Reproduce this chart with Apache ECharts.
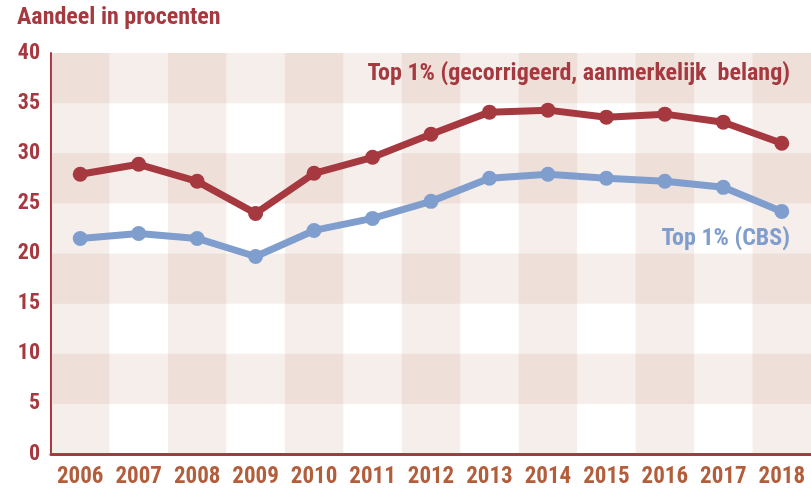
<!DOCTYPE html>
<html>
<head>
<meta charset="utf-8">
<script src="https://cdn.jsdelivr.net/npm/echarts@6/dist/echarts.min.js"></script>
<style>html,body{margin:0;padding:0;background:#fff}#c{width:811px;height:489px}</style>
</head>
<body>
<div id="c"></div>
<script>
var years = ['2006','2007','2008','2009','2010','2011','2012','2013','2014','2015','2016','2017','2018'];
var top1Corrected = [27.9, 28.9, 27.2, 24.0, 28.0, 29.6, 31.9, 34.1, 34.3, 33.6, 33.9, 33.1, 31.0];
var top1CBS = [21.5, 22.0, 21.5, 19.7, 22.3, 23.5, 25.2, 27.5, 27.9, 27.5, 27.2, 26.6, 24.2];
var yTicks = [0, 5, 10, 15, 20, 25, 30, 35, 40];
var shadedRows = [[5, 10], [15, 20], [25, 30], [35, 40]];
var titleText = 'Aandeel in procenten';
var labelCorrected = 'Top 1% (gecorrigeerd, aanmerkelijk  belang)';
var labelCBS = 'Top 1% (CBS)';

var FONT = '"Roboto Condensed", "Arial Narrow", sans-serif';
var RED = '#a6383f';
var BLUE = '#7f9ecd';
var SHADE = 'rgba(180,113,88,0.12)';
var YMAX = yTicks[yTicks.length - 1];

var chart = echarts.init(document.getElementById('c'), null, {renderer: 'canvas'});
chart.setOption({
  animation: false,
  backgroundColor: '#ffffff',
  grid: {left: 51, top: 53, right: -4, bottom: 35, containLabel: false},
  graphic: [
    {type: 'text', left: 17, top: 6, z: 10, style: {text: titleText, font: 'bold 24px ' + FONT, fill: RED}},
    {type: 'text', right: 21, top: 62, z: 10, style: {text: labelCorrected, font: 'bold 24px ' + FONT, fill: RED}},
    {type: 'text', right: 21, top: 227, z: 10, style: {text: labelCBS, font: 'bold 24px ' + FONT, fill: BLUE}}
  ],
  xAxis: {
    type: 'category',
    data: years,
    boundaryGap: true,
    axisLine: {show: true, lineStyle: {color: RED, width: 3}},
    axisTick: {show: false},
    axisLabel: {interval: 0, margin: 12, color: '#b25d3b', fontFamily: FONT, fontWeight: 'bold', fontSize: 23},
    splitLine: {show: false},
    splitArea: {show: false}
  },
  yAxis: {
    type: 'value',
    min: yTicks[0],
    max: YMAX,
    interval: 5,
    axisLine: {show: true, lineStyle: {color: RED, width: 2}},
    axisTick: {show: false},
    axisLabel: {margin: 11, color: RED, fontFamily: FONT, fontWeight: 'bold', fontSize: 22},
    splitLine: {show: false},
    splitArea: {show: false}
  },
  series: [
    {
      type: 'bar', silent: true, z: 0,
      data: years.map(function () { return YMAX; }),
      barWidth: '100%', barCategoryGap: '0%',
      itemStyle: {color: function (p) { return p.dataIndex % 2 === 0 ? SHADE : 'rgba(255,255,255,0)'; }},
      markArea: {
        silent: true,
        itemStyle: {color: SHADE},
        data: shadedRows.map(function (r) { return [{yAxis: r[0]}, {yAxis: r[1]}]; })
      }
    },
    {
      name: labelCorrected, type: 'line', data: top1Corrected, z: 3,
      symbol: 'circle', symbolSize: 15,
      lineStyle: {color: RED, width: 7}, itemStyle: {color: RED}
    },
    {
      name: labelCBS, type: 'line', data: top1CBS, z: 3,
      symbol: 'circle', symbolSize: 15,
      lineStyle: {color: BLUE, width: 7}, itemStyle: {color: BLUE}
    }
  ]
});
</script>
</body>
</html>
